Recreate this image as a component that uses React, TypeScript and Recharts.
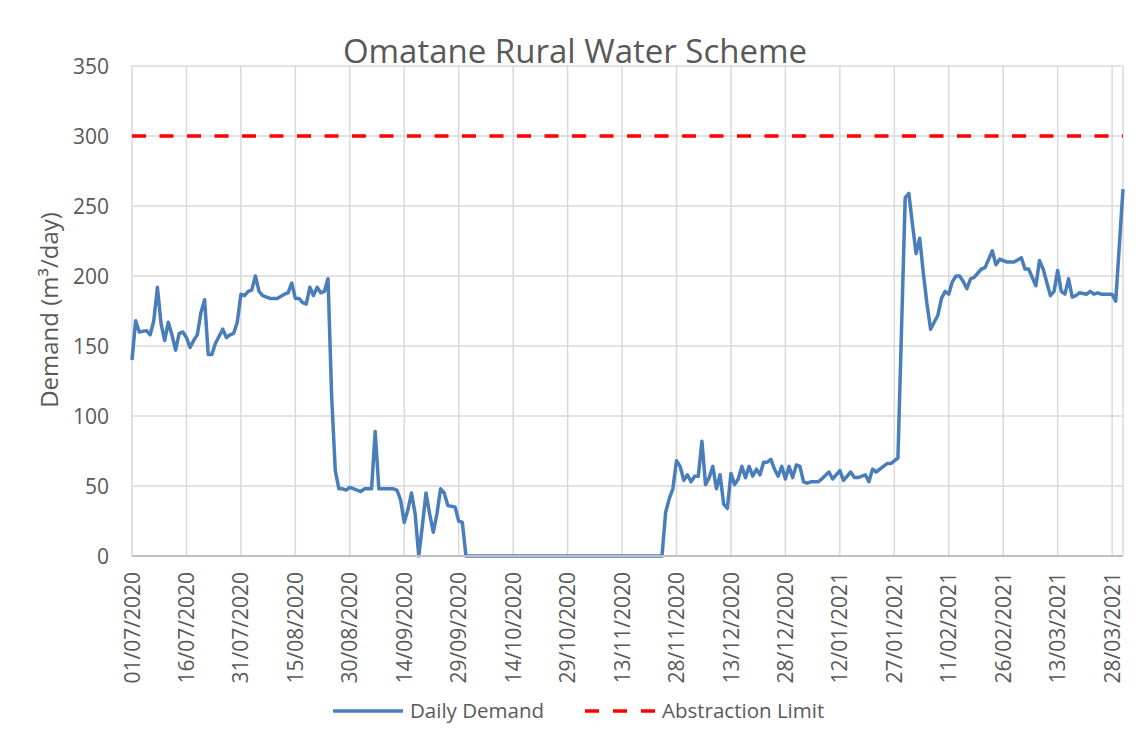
import { CartesianGrid, Line, LineChart, XAxis, YAxis } from "recharts";

// x positions are days since 01/07/2020
const tickDays = [0, 15, 30, 45, 60, 75, 90, 105, 120, 135, 150, 165, 180, 195, 210, 225, 240, 255, 270];
const tickLabels = [
  "01/07/2020", "16/07/2020", "31/07/2020", "15/08/2020", "30/08/2020", "14/09/2020", "29/09/2020",
  "14/10/2020", "29/10/2020", "13/11/2020", "28/11/2020", "13/12/2020", "28/12/2020", "12/01/2021",
  "27/01/2021", "11/02/2021", "26/02/2021", "13/03/2021", "28/03/2021",
];
const yTicks = [0, 50, 100, 150, 200, 250, 300, 350];

const demandDays = [
  0, 1, 2, 4, 5, 6, 7, 8, 9, 10, 11, 12, 13, 14, 15, 16, 17, 18, 19, 20, 21, 22, 23, 25, 26, 27, 28, 29,
  30, 31, 32, 33, 34, 35, 36, 38, 40, 42, 43, 44, 45, 46, 47, 48, 49, 50, 51, 52, 53, 54, 55, 56, 57, 58,
  59, 60, 62, 63, 64, 66, 67, 68, 72, 73, 74, 75, 76, 77, 78, 79, 80, 81, 82, 83, 84, 85, 86, 87, 89, 90,
  91, 92, 146, 147, 148, 149, 150, 151, 152, 153, 154, 155, 156, 157, 158, 159, 160, 161, 162, 163, 164,
  165, 166, 167, 168, 169, 170, 171, 172, 173, 174, 175, 176, 177, 178, 179, 180, 181, 182, 183, 184, 185,
  186, 187, 188, 189, 190, 192, 193, 195, 196, 198, 199, 200, 202, 203, 204, 205, 207, 208, 209, 210, 211,
  213, 214, 215, 216, 217, 218, 219, 220, 221, 222, 223, 224, 225, 226, 227, 228, 229, 230, 231, 232, 234,
  235, 237, 238, 239, 241, 243, 245, 246, 247, 249, 250, 251, 253, 254, 255, 256, 257, 258, 259, 260, 261,
  263, 264, 265, 266, 267, 268, 269, 270, 271, 273,
];
const demandValues = [
  140, 168, 160, 161, 158, 168, 192, 166, 154, 167, 158, 147, 159, 160, 156, 149, 154, 158, 174, 183, 144, 144, 152, 162, 156, 158, 159, 167,
  187, 186, 189, 190, 200, 189, 186, 184, 184, 187, 188, 195, 184, 184, 181, 180, 192, 186, 192, 188, 189, 198, 114, 61, 48, 48,
  47, 49, 47, 46, 48, 48, 89, 48, 48, 47, 40, 24, 33, 45, 30, 0, 22, 45, 30, 17, 30, 48, 45, 36, 35, 25,
  24, 0, 0, 31, 41, 48, 68, 64, 54, 58, 53, 57, 57, 82, 51, 56, 64, 48, 58, 37, 34,
  59, 51, 55, 64, 56, 64, 57, 62, 58, 67, 67, 69, 62, 57, 64, 55, 64, 56, 65, 64, 53,
  52, 53, 53, 53, 55, 60, 55, 61, 54, 60, 56, 56, 58, 53, 62, 60, 64, 66, 66, 68, 70,
  256, 259, 237, 216, 227, 202, 180, 162, 167, 172, 184, 189, 187, 196, 200, 200, 196, 191, 198, 199, 205,
  206, 218, 208, 212, 210, 210, 213, 205, 205, 193, 211, 205, 186, 189, 204, 189, 187, 198, 185, 186, 188,
  187, 189, 187, 188, 187, 187, 187, 187, 182, 262,
];

const limitDays = [0, 273];
const limitValues = [300, 300];

const demandData = demandDays.map((day, i) => ({ day, demand: demandValues[i] }));
const limitData = limitDays.map((day, i) => ({ day, limit: limitValues[i] }));

const font = "'Open Sans', sans-serif";
const textColor = "#595959";
const blue = "#4a7ebb";
const red = "#ff0000";

function DateTick({ x, y, payload }: any) {
  const label = tickLabels[tickDays.indexOf(payload.value)];
  return (
    <text
      x={x}
      y={y}
      transform={`rotate(-90, ${x}, ${y})`}
      textAnchor="end"
      dy="0.36em"
      fill={textColor}
      fontSize={21}
      fontFamily={font}
    >
      {label}
    </text>
  );
}

function ValueTick({ x, y, payload }: any) {
  return (
    <text x={x} y={y} textAnchor="end" dy="0.36em" fill={textColor} fontSize={21} fontFamily={font}>
      {payload.value}
    </text>
  );
}

export default function App() {
  return (
    <div style={{ position: "absolute", left: 0, top: 0, width: 1141, height: 742, background: "#fff" }}>
      <LineChart width={1141} height={742} margin={{ top: 66, right: 18, left: 0, bottom: 0 }}>
        <CartesianGrid stroke="#d9d9d9" strokeWidth={1.5} />
        <XAxis
          dataKey="day"
          type="number"
          domain={[0, 273]}
          ticks={tickDays}
          interval={0}
          height={186}
          tickLine={false}
          tickSize={0}
          tickMargin={16}
          axisLine={{ stroke: "#bfbfbf", strokeWidth: 2 }}
          tick={<DateTick />}
          allowDuplicatedCategory={false}
        />
        <YAxis
          type="number"
          domain={[0, 350]}
          ticks={yTicks}
          interval={0}
          width={132}
          axisLine={false}
          tickLine={false}
          tickSize={0}
          tickMargin={23}
          tick={<ValueTick />}
        />
        <Line
          data={demandData}
          dataKey="demand"
          type="linear"
          stroke={blue}
          strokeWidth={3.5}
          strokeLinejoin="round"
          dot={false}
          isAnimationActive={false}
        />
        <Line
          data={limitData}
          dataKey="limit"
          type="linear"
          stroke={red}
          strokeWidth={3.5}
          strokeDasharray="14 13.5"
          dot={false}
          isAnimationActive={false}
        />
      </LineChart>
      <svg
        width={1141}
        height={742}
        style={{ position: "absolute", left: 0, top: 0, pointerEvents: "none" }}
        fontFamily={font}
        fill={textColor}
      >
        <text x={575} y={63} textAnchor="middle" fontSize={33}>
          Omatane Rural Water Scheme
        </text>
        <text transform="translate(58, 310) rotate(-90)" textAnchor="middle" fontSize={24}>
          Demand (m³/day)
        </text>
        <line x1={333} x2={403} y1={711} y2={711} stroke={blue} strokeWidth={3.5} />
        <text x={410} y={718} fontSize={20.5}>
          Daily Demand
        </text>
        <line x1={585} x2={655} y1={711} y2={711} stroke={red} strokeWidth={3.5} strokeDasharray="14 14" />
        <text x={662} y={718} fontSize={20.5}>
          Abstraction Limit
        </text>
      </svg>
    </div>
  );
}
